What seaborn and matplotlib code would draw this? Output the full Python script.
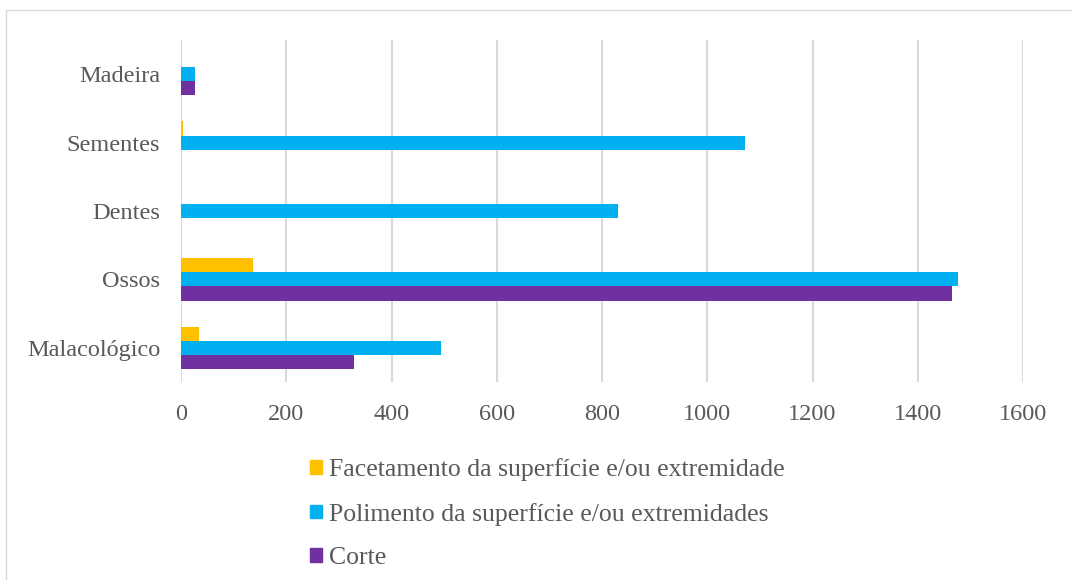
import pandas as pd
import matplotlib.pyplot as plt
import seaborn as sns
from matplotlib.patches import Rectangle

categorias = ['Madeira', 'Sementes', 'Dentes', 'Ossos', 'Malacológico']
series = ['Facetamento da superfície e/ou extremidade',
          'Polimento da superfície e/ou extremidades',
          'Corte']
facetamento = [0, 4, 0, 137, 34]
polimento = [26, 1071, 830, 1477, 494]
corte = [26, 0, 0, 1465, 329]
cores = ['#FFC000', '#00B0F0', '#7030A0']

rows = []
for nome, vals in zip(series, [facetamento, polimento, corte]):
    for cat, v in zip(categorias, vals):
        rows.append({'categoria': cat, 'serie': nome, 'valor': v})
df = pd.DataFrame(rows)

sns.set_theme(style='white')
plt.rcParams['font.family'] = ['Liberation Serif', 'DejaVu Serif']
cinza = '#595959'

fig = plt.figure(figsize=(10.72, 5.8), dpi=100)
ax = fig.add_axes([181 / 1072, 1 - 382 / 580, (1023 - 181) / 1072, (382 - 40) / 580])

sns.barplot(data=df, x='valor', y='categoria', hue='serie', order=categorias,
            hue_order=series, palette=cores, orient='h', width=0.62, gap=0,
            linewidth=0, saturation=1, ax=ax, legend=False)

ax.set_xlim(0, 1600)
ax.set_ylim(4.5, -0.5)
ax.set_xticks(range(0, 1601, 200))
ax.xaxis.grid(True, color='#D9D9D9', linewidth=1.5)
ax.set_axisbelow(True)
for s in ax.spines.values():
    s.set_visible(False)
ax.set_xlabel('')
ax.set_ylabel('')
ax.tick_params(axis='both', length=0, labelsize=17.5, labelcolor=cinza)
ax.tick_params(axis='y', pad=15)
ax.tick_params(axis='x', pad=16)

handles = [Rectangle((0, 0), 1, 1, color=c) for c in cores]
fig.legend(handles, series, loc='upper left', bbox_to_anchor=(287 / 1072, 1 - 435 / 580),
           frameon=False, fontsize=18.5, labelcolor=cinza, handlelength=0.45,
           handleheight=0.45, handletextpad=0.3, labelspacing=0.84)

fig.patches.append(Rectangle((6 / 1072, -0.05), 1.1, 1 - 10 / 580 + 0.05,
                             transform=fig.transFigure, fill=False,
                             edgecolor='#D9D9D9', linewidth=1))

fig.savefig('out.png', dpi=100)
